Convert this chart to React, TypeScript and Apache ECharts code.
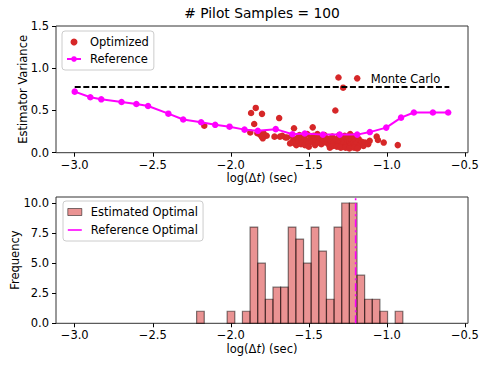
import React, { useEffect, useRef } from 'react';
import * as echarts from 'echarts';

const FONT = 'DejaVu Sans';

const titleText = '# Pilot Samples = 100';
const xTicks = [-3.0, -2.5, -2.0, -1.5, -1.0, -0.5];
const varTicks = [0, 0.5, 1.0, 1.5];
const freqTicks = [0, 2.5, 5, 7.5, 10];

// Reference curve (magenta)
const refX = [-3.0, -2.9, -2.83, -2.70, -2.605, -2.53, -2.40, -2.305, -2.19, -2.10, -2.008, -1.912, -1.827, -1.712, -1.605, -1.526, -1.41, -1.302, -1.19, -1.109, -1.004, -0.909, -0.827, -0.705, -0.607];
const refY = [0.723, 0.656, 0.632, 0.60, 0.577, 0.553, 0.462, 0.393, 0.36, 0.33, 0.308, 0.273, 0.259, 0.279, 0.218, 0.228, 0.214, 0.214, 0.214, 0.244, 0.297, 0.415, 0.476, 0.476, 0.476];

// Optimized estimates (red dots)
const optX = [
  -2.17, -1.87, -1.84, -1.80, -1.85, -1.875, -1.83, -1.81, -1.79, -1.77, -1.795, -1.80, -1.69, -1.72, -1.685, -1.67, -1.65, -1.64,
  -1.595, -1.61, -1.60, -1.59, -1.58, -1.575, -1.565, -1.56, -1.55, -1.545, -1.54, -1.53, -1.525, -1.515, -1.51, -1.50, -1.49, -1.475, -1.48, -1.47, -1.46, -1.455,
  -1.445, -1.44, -1.43, -1.42, -1.41, -1.40, -1.39, -1.385, -1.37, -1.36, -1.35, -1.34, -1.33, -1.325, -1.315, -1.31, -1.305,
  -1.30, -1.29, -1.28, -1.285, -1.275, -1.27, -1.26, -1.255, -1.25, -1.245, -1.24, -1.235, -1.23, -1.225, -1.22, -1.215, -1.21, -1.205, -1.20, -1.19, -1.195, -1.185, -1.18, -1.17, -1.16, -1.15, -1.14, -1.12,
  -1.065, -1.057, -1.02, -0.93,
  -1.365, -1.345, -1.32, -1.295, -1.265, -1.24, -1.21, -1.19, -1.50, -1.62, -1.11,
];
const optY = [
  0.32, 0.47, 0.53, 0.46, 0.34, 0.24, 0.23, 0.21, 0.23, 0.20, 0.17, 0.19, 0.41, 0.19, 0.19, 0.20, 0.18, 0.18,
  0.29, 0.20, 0.15, 0.11, 0.09, 0.17, 0.13, 0.21, 0.10, 0.16, 0.12, 0.19, 0.09, 0.14, 0.22, 0.11, 0.17, 0.30, 0.13, 0.20, 0.09, 0.15,
  0.22, 0.12, 0.18, 0.10, 0.15, 0.21, 0.12, 0.17, 0.09, 0.14, 0.19, 0.12, 0.50, 0.16, 0.10, 0.89, 0.21,
  0.13, 0.09, 0.77, 0.17, 0.12, 0.20, 0.10, 0.15, 0.08, 0.18, 0.13, 0.22, 0.10, 0.16, 0.07, 0.12, 0.19, 0.09, 0.14, 0.88, 0.11, 0.06, 0.16, 0.10, 0.13, 0.08, 0.12, 0.10,
  0.19, 0.15, 0.12, 0.09,
  0.06, 0.08, 0.07, 0.06, 0.06, 0.05, 0.06, 0.05, 0.07, 0.11, 0.14,
];

// Monte Carlo level
const mcX = [-3.0, -0.6];
const mcValue = 0.775;

// Histogram of estimated optimal log(dt)
const histMin = -2.219;
const histBinWidth = 0.04894;
const histCounts = [1, 0, 0, 0, 1, 0, 1, 8, 5, 2, 3, 3, 8, 7, 5, 8, 6, 2, 8, 10, 10, 4, 2, 2, 1, 0, 1];
const refOptimal = -1.2;

const fmt1 = (v: number) => {
  const s = Math.abs(v).toFixed(1);
  return v < -1e-9 ? '\u2212' + s : s;
};

const textBase = { color: '#000', fontFamily: FONT, fontSize: 11.5 };

function xAxisFor(gridIndex: number, nameGap: number) {
  return {
    type: 'value',
    gridIndex,
    min: -3.12,
    max: -0.48,
    axisLine: { show: false },
    splitLine: { show: false },
    axisTick: { show: true, inside: false, length: 4, customValues: xTicks, lineStyle: { color: '#000', width: 1 } },
    axisLabel: { show: true, customValues: xTicks, formatter: fmt1, margin: 6, ...textBase },
    name: '{a|log(\u0394}{b|t}{a|) (sec)}',
    nameLocation: 'middle',
    nameGap,
    nameMoveOverlap: false,
    nameTextStyle: {
      ...textBase,
      rich: {
        a: { ...textBase },
        b: { ...textBase, fontStyle: 'italic' },
      },
    },
  };
}

export default function App() {
  const ref = useRef<HTMLDivElement>(null);
  useEffect(() => {
    if (!ref.current) return;
    const chart = echarts.init(ref.current, null, { renderer: 'svg' });

    const histData = histCounts
      .map((c, i) => [histMin + i * histBinWidth, histMin + (i + 1) * histBinWidth, c])
      .filter((d) => d[2] > 0);

    const option: any = {
      animation: false,
      backgroundColor: '#fff',
      title: {
        text: titleText,
        left: 257,
        top: 1,
        textAlign: 'center',
        textStyle: { color: '#000', fontFamily: FONT, fontSize: 13.8, fontWeight: 'normal' },
      },
      grid: [
        { left: 56, top: 26, width: 412, height: 126.7, show: true, borderColor: '#333', borderWidth: 1, backgroundColor: 'transparent', containLabel: false, outerBoundsMode: 'none' },
        { left: 56, top: 197, width: 412, height: 126.3, show: true, borderColor: '#333', borderWidth: 1, backgroundColor: 'transparent', containLabel: false, outerBoundsMode: 'none' },
      ],
      xAxis: [xAxisFor(0, 19), xAxisFor(1, 20)],
      yAxis: [
        {
          type: 'value', gridIndex: 0, min: 0, max: 1.5, interval: 0.5,
          axisLine: { show: false }, splitLine: { show: false },
          axisTick: { show: true, length: 4, customValues: varTicks, lineStyle: { color: '#000', width: 1 } },
          axisLabel: { customValues: varTicks, formatter: fmt1, margin: 7, ...textBase },
          name: 'Estimator Variance', nameLocation: 'middle', nameGap: 27,
          nameMoveOverlap: false,
          nameTextStyle: { ...textBase },
        },
        {
          type: 'value', gridIndex: 1, min: 0, max: 10.5,
          axisLine: { show: false }, splitLine: { show: false },
          axisTick: { show: true, length: 4, customValues: freqTicks, lineStyle: { color: '#000', width: 1 } },
          axisLabel: { customValues: freqTicks, formatter: fmt1, margin: 7, ...textBase },
          name: 'Frequency', nameLocation: 'middle', nameGap: 35,
          nameMoveOverlap: false,
          nameTextStyle: { ...textBase },
        },
      ],
      legend: [
        {
          data: ['Optimized', 'Reference'],
          orient: 'vertical', left: 62, top: 31,
          padding: [4, 5, 4, 4],
          itemWidth: 14, itemHeight: 7, itemGap: 3,
          borderColor: '#cccccc', borderWidth: 1, borderRadius: 3,
          backgroundColor: 'rgba(255,255,255,0.8)',
          textStyle: { ...textBase, lineHeight: 14, padding: [0, 0, 0, 4] },
          selectedMode: false,
        },
        {
          data: [
            { name: 'Estimated Optimal', icon: 'rect', itemStyle: { color: 'rgba(214,39,40,0.5)', borderColor: 'rgba(0,0,0,0.5)', borderWidth: 1 } },
            {
              name: 'Reference Optimal',
              itemStyle: { color: 'rgba(0,0,0,0)', borderColor: 'rgba(0,0,0,0)', borderWidth: 0 },
              lineStyle: { type: 'solid', width: 1.6, color: '#ff00ff' },
            },
          ],
          orient: 'vertical', left: 63, top: 201,
          padding: [4, 5, 4, 4],
          itemWidth: 14, itemHeight: 7, itemGap: 4,
          borderColor: '#cccccc', borderWidth: 1, borderRadius: 3,
          backgroundColor: 'rgba(255,255,255,0.8)',
          textStyle: { ...textBase, lineHeight: 14, padding: [0, 0, 0, 4] },
          selectedMode: false,
        },
      ],
      series: [
        {
          name: 'Optimized',
          type: 'scatter',
          xAxisIndex: 0, yAxisIndex: 0,
          data: optX.map((x, i) => [x, optY[i]]),
          symbol: 'circle',
          symbolSize: 6.5,
          itemStyle: { color: '#d62728', opacity: 1 },
          z: 2,
          markLine: {
            silent: true,
            symbol: ['none', 'none'],
            lineStyle: { color: '#000', type: [6, 2.6], width: 1.8 },
            label: {
              show: true, position: 'insideEndTop', formatter: 'Monte Carlo', distance: 2,
              padding: [0, 7, 0, 0], ...textBase,
            },
            emphasis: { disabled: true },
            data: [[{ coord: [mcX[0], mcValue] }, { coord: [mcX[1], mcValue] }]],
          },
        },
        {
          name: 'Reference',
          type: 'line',
          xAxisIndex: 0, yAxisIndex: 0,
          data: refX.map((x, i) => [x, refY[i]]),
          symbol: 'circle',
          symbolSize: 6.5,
          showSymbol: true,
          itemStyle: { color: '#ff00ff' },
          lineStyle: { color: '#ff00ff', width: 2 },
          z: 3,
        },
        {
          name: 'Estimated Optimal',
          type: 'custom',
          xAxisIndex: 1, yAxisIndex: 1,
          data: histData,
          encode: { x: [0, 1], y: 2 },
          itemStyle: { color: 'rgba(214,39,40,0.5)' },
          renderItem: (params: any, api: any) => {
            const p0 = api.coord([api.value(0), api.value(2)]);
            const p1 = api.coord([api.value(1), 0]);
            return {
              type: 'rect',
              shape: { x: p0[0], y: p0[1], width: p1[0] - p0[0], height: p1[1] - p0[1] },
              style: { fill: 'rgba(214,39,40,0.5)', stroke: 'rgba(0,0,0,0.5)', lineWidth: 1.2 },
            };
          },
          z: 2,
        },
        {
          name: 'Reference Optimal',
          type: 'line',
          xAxisIndex: 1, yAxisIndex: 1,
          data: [[refOptimal, 0], [refOptimal, 10.5]],
          symbol: 'none',
          itemStyle: { color: '#ff00ff' },
          lineStyle: { color: '#ff00ff', width: 1.6, type: [8, 3, 2, 3] },
          z: 3,
        },
      ],
    };
    chart.setOption(option);
    return () => chart.dispose();
  }, []);
  return (
    <div
      ref={ref}
      style={{ position: 'fixed', left: 0, top: 0, width: 490, height: 368, background: '#fff' }}
    />
  );
}
